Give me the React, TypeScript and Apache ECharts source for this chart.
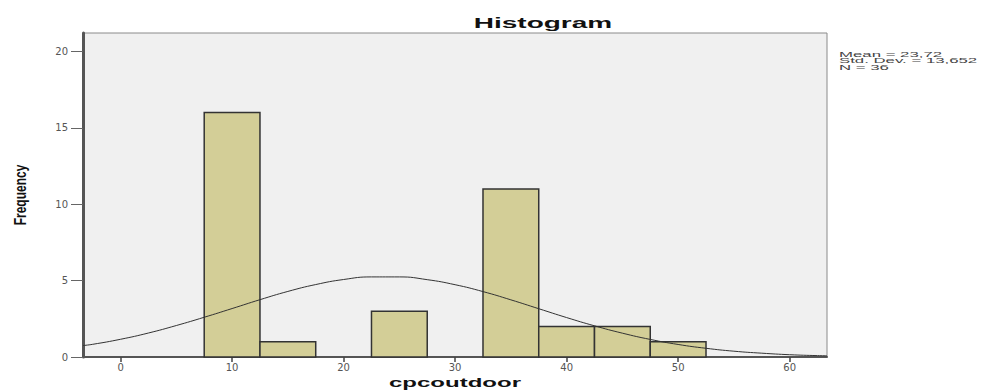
import React, { useEffect, useRef } from "react";
import * as echarts from "echarts";

// Histogram bins (lower edge, upper edge) and frequencies
const binStarts = [7.5, 12.5, 22.5, 32.5, 37.5, 42.5, 47.5];
const binEnds = [12.5, 17.5, 27.5, 37.5, 42.5, 47.5, 52.5];
const frequencies = [16, 1, 3, 11, 2, 2, 1];

// Normal curve
const curveX = [-3.37, -2.5, 0, 2.5, 5, 7.5, 10, 12.5, 15, 17.5, 20, 22.5, 25, 27.5, 30, 32.5, 35, 37.5, 40, 42.5, 45, 47.5, 50, 52.5, 55, 57.5, 60, 62.5, 63.35];
const curveY = [0.75, 0.83, 1.16, 1.57, 2.06, 2.6, 3.17, 3.75, 4.29, 4.74, 5.07, 5.24, 5.24, 5.06, 4.73, 4.28, 3.74, 3.16, 2.58, 2.04, 1.56, 1.15, 0.82, 0.57, 0.38, 0.25, 0.15, 0.09, 0.08];

const xTicks = [0, 10, 20, 30, 40, 50, 60];
const yTicks = [0, 5, 10, 15, 20];

const titleText = "Histogram";
const xAxisTitle = "cpcoutdoor";
const yAxisTitle = "Frequency";
const statLines = ["Mean = 23,72", "Std. Dev. = 13,652", "N = 36"];

export default function App() {
  const ref = useRef<HTMLDivElement>(null);

  useEffect(() => {
    if (!ref.current) return;
    const chart = echarts.init(ref.current, null, { renderer: "svg" });
    const binData = binStarts.map((s, i) => [s, binEnds[i], frequencies[i]]);
    const curveData = curveX.map((x, i) => [x, curveY[i]]);

    chart.setOption({
      animation: false,
      backgroundColor: "#ffffff",
      grid: {
        left: 83,
        right: 174,
        top: 33,
        bottom: 35,
        show: true,
        backgroundColor: "#f0f0f0",
        borderColor: "#8a8a8a",
        borderWidth: 1,
      },
      xAxis: {
        type: "value",
        min: -3.37,
        max: 63.35,
        splitLine: { show: false },
        axisLine: { show: true, onZero: false, lineStyle: { color: "#555", width: 2 } },
        axisTick: { show: true, length: 5, customValues: xTicks, lineStyle: { color: "#444", width: 1.5 } },
        axisLabel: {
          customValues: xTicks,
          color: "#555",
          fontFamily: "DejaVu Sans",
          fontSize: 10,
          margin: 5,
        },
      },
      yAxis: {
        type: "value",
        min: 0,
        max: 21.2,
        splitLine: { show: false },
        axisLine: { show: true, onZero: false, lineStyle: { color: "#555", width: 3 } },
        axisTick: { show: true, length: 12, customValues: yTicks, lineStyle: { color: "#666", width: 1 } },
        axisLabel: {
          customValues: yTicks,
          color: "#555",
          fontFamily: "DejaVu Sans",
          fontSize: 10,
          margin: 15,
        },
      },
      series: [
        {
          type: "custom",
          data: binData,
          encode: { x: [0, 1], y: 2 },
          renderItem: (params: any, api: any) => {
            const p0 = api.coord([api.value(0), api.value(2)]);
            const p1 = api.coord([api.value(1), 0]);
            return {
              type: "rect",
              shape: { x: p0[0], y: p0[1], width: p1[0] - p0[0], height: p1[1] - p0[1] },
              style: { fill: "#d3ce97", stroke: "#333", lineWidth: 1.5 },
            };
          },
          z: 2,
        },
        {
          type: "line",
          data: curveData,
          smooth: true,
          showSymbol: false,
          symbol: "none",
          clip: true,
          lineStyle: { color: "#333", width: 1 },
          z: 3,
        },
      ],
      graphic: [
        {
          type: "text",
          x: 543,
          y: 23,
          scaleX: 2.0,
          style: {
            text: titleText,
            fontFamily: "Liberation Sans",
            fontWeight: "bold",
            fontSize: 14,
            fill: "#111",
            textAlign: "center",
            textVerticalAlign: "middle",
          },
        },
        {
          type: "text",
          x: 455,
          y: 383,
          scaleX: 2.0,
          style: {
            text: xAxisTitle,
            fontFamily: "Liberation Sans",
            fontWeight: "bold",
            fontSize: 12,
            fill: "#111",
            textAlign: "center",
            textVerticalAlign: "middle",
          },
        },
        {
          type: "text",
          x: 20,
          y: 195,
          rotation: Math.PI / 2,
          scaleY: 1.3,
          style: {
            text: yAxisTitle,
            fontFamily: "Liberation Sans",
            fontWeight: "bold",
            fontSize: 12,
            fill: "#111",
            textAlign: "center",
            textVerticalAlign: "middle",
          },
        },
        ...statLines.map((t, i) => ({
          type: "text",
          x: 839,
          y: 54 + i * 6.5,
          scaleX: 2.1,
          style: {
            text: t,
            fontFamily: "Liberation Sans",
            fontSize: 8,
            fill: "#444",
            textAlign: "left",
            textVerticalAlign: "middle",
          },
        })),
      ],
    });

    return () => chart.dispose();
  }, []);

  return (
    <div
      ref={ref}
      style={{ position: "fixed", left: 0, top: 0, width: 1001, height: 392 }}
    />
  );
}
